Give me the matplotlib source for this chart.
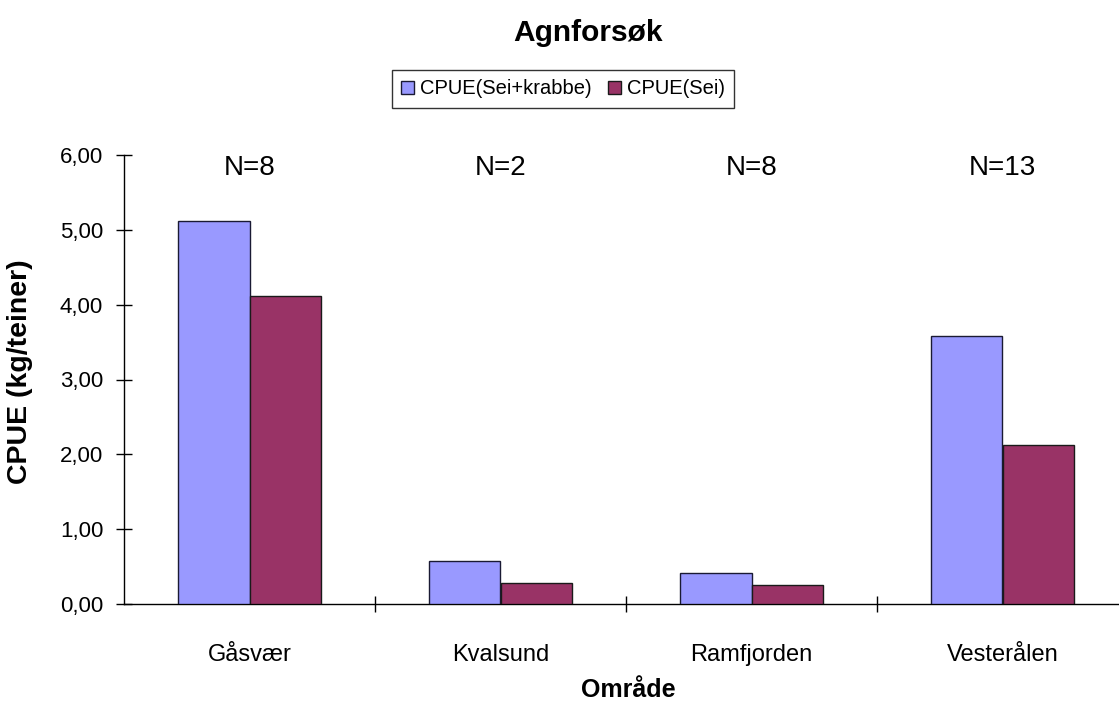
import matplotlib
matplotlib.use("Agg")
import matplotlib.pyplot as plt
import numpy as np

# data
omrader = ["Gåsvær", "Kvalsund", "Ramfjorden", "Vesterålen"]
n_labels = ["N=8", "N=2", "N=8", "N=13"]
cpue_sei_krabbe = [5.12, 0.57, 0.41, 3.58]
cpue_sei = [4.11, 0.28, 0.26, 2.12]
y_ticks = [0, 1, 2, 3, 4, 5, 6]

W, H = 1119, 701
fig = plt.figure(figsize=(W / 100, H / 100), dpi=100)
# axes box in pixels: left 124, right edge past the figure, y 0 at 604, y 6 at 155
ax = fig.add_axes([124 / W, (H - 604) / H, (1119 - 124) / W, (604 - 155) / H])

x = np.arange(len(omrader))
bw = 0.283
ax.bar(x - bw / 2, cpue_sei_krabbe, bw, color="#9999FF", edgecolor="#1a1a33",
       linewidth=1.0, label="CPUE(Sei+krabbe)", zorder=3)
ax.bar(x + bw / 2, cpue_sei, bw, color="#993366", edgecolor="#1a1a1a",
       linewidth=1.0, label="CPUE(Sei)", zorder=3)

ax.set_xlim(-0.5, -0.5 + 995 / 251)
ax.set_ylim(0, 6)

for s in ("top", "right"):
    ax.spines[s].set_visible(False)
for s in ("left", "bottom"):
    ax.spines[s].set_color("black")
    ax.spines[s].set_linewidth(1.0)

ax.set_yticks(y_ticks)
ax.set_yticklabels([f"{v:.2f}".replace(".", ",") for v in y_ticks],
                   family="Liberation Sans", size=16)
ax.tick_params(axis="y", direction="inout", length=12, width=1, pad=9)

ax.set_xticks(x)
ax.set_xticklabels(omrader, family="Liberation Sans", size=17)
ax.set_xticks(x[:-1] + 0.5, minor=True)
ax.tick_params(axis="x", which="major", length=0, pad=29)
ax.tick_params(axis="x", which="minor", direction="inout", length=12, width=1)

for xi, lab in zip(x, n_labels):
    ax.text(xi, 5.83, lab, ha="center", va="center",
            family="Liberation Sans", size=20)

ax.set_ylabel("CPUE (kg/teiner)", family="Liberation Sans", weight="bold",
              size=20.5, va="center")
ax.yaxis.set_label_coords((20 - 124) / 995, (604 - 372) / 449)
ax.set_xlabel("Område", family="Liberation Sans", weight="bold", size=18,
              va="center")
ax.xaxis.set_label_coords((628 - 124) / 995, (604 - 690) / 449)

fig.text(588 / W, 1 - 33 / H, "Agnforsøk", ha="center", va="center",
         family="Liberation Sans", weight="bold", size=21.5)

leg = fig.legend(loc="center", bbox_to_anchor=(563 / W, 1 - 89 / H),
                 ncol=2, frameon=True, fancybox=False, edgecolor="black",
                 prop=dict(family="Liberation Sans", size=14.5),
                 handlelength=0.65, handleheight=0.65, handletextpad=0.3,
                 columnspacing=0.8, borderpad=0.45, borderaxespad=0)
leg.get_frame().set_linewidth(1.0)

fig.savefig("out.png", dpi=100, facecolor="white")
